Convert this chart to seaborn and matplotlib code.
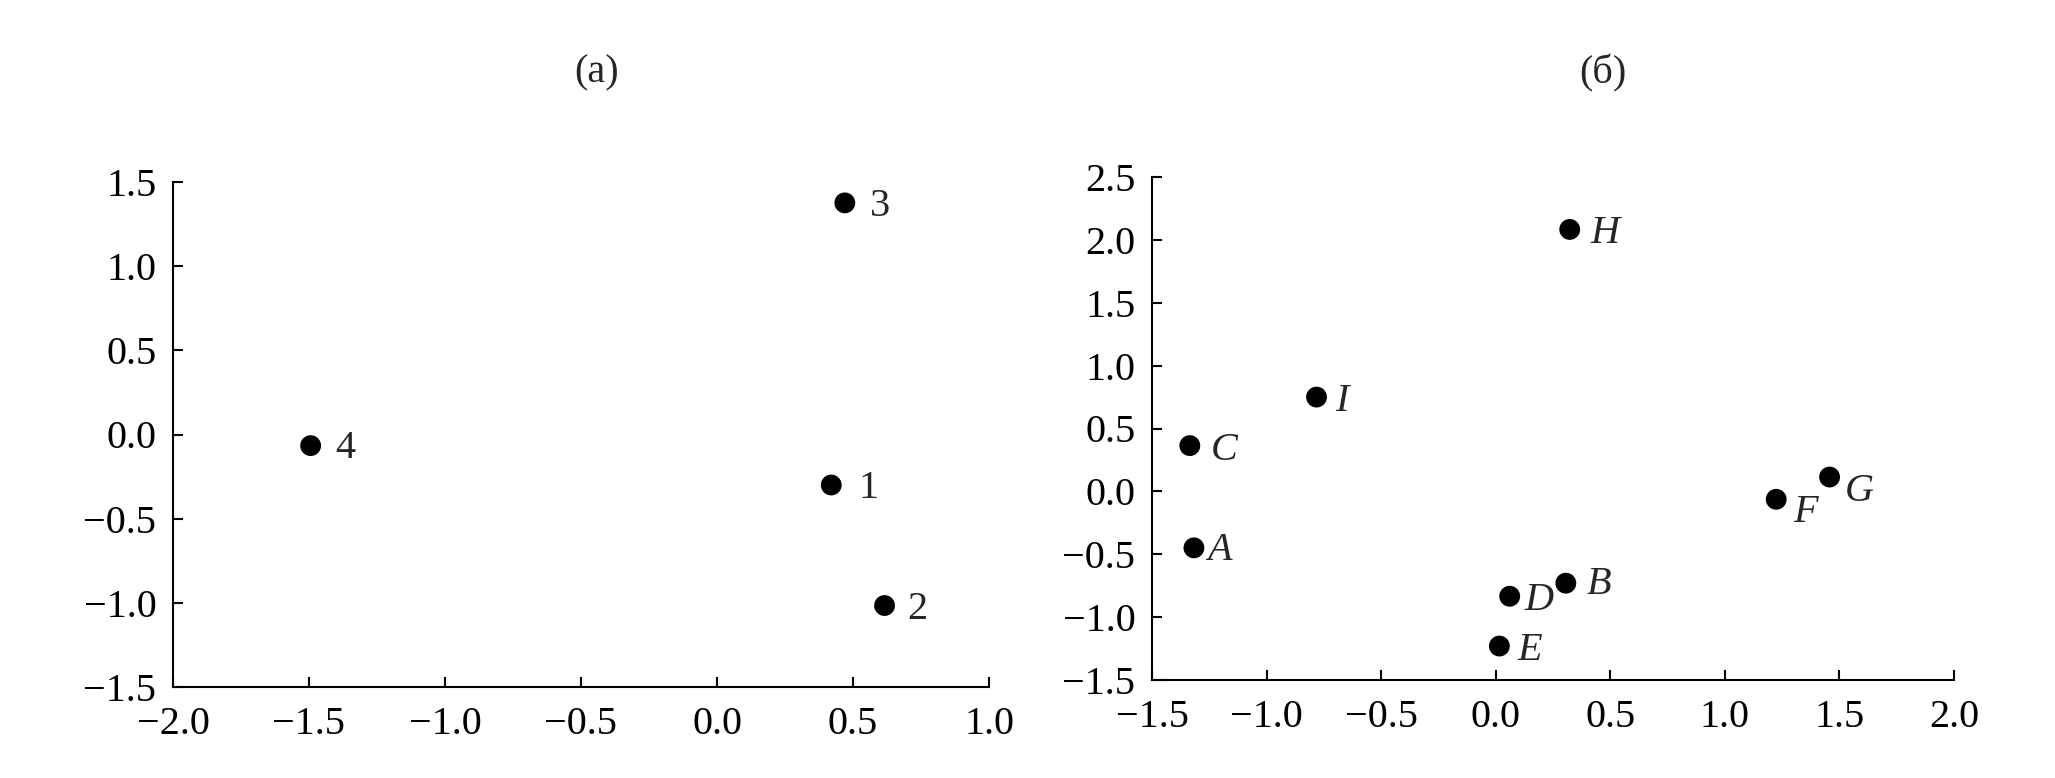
import matplotlib
matplotlib.use("Agg")
import matplotlib.pyplot as plt
import seaborn as sns
import pandas as pd

# ==========================================
# DATA
# ==========================================
a_labels = ["1", "2", "3", "4"]
a_x = [0.42, 0.616, 0.47, -1.494]
a_y = [-0.30, -1.016, 1.376, -0.066]

b_labels = ["A", "B", "C", "D", "E", "F", "G", "H", "I"]
b_x = [-1.317, 0.306, -1.335, 0.061, 0.016, 1.224, 1.457, 0.323, -0.782]
b_y = [-0.449, -0.73, 0.364, -0.834, -1.23, -0.063, 0.114, 2.083, 0.75]

a_xticks = [-2.0, -1.5, -1.0, -0.5, 0.0, 0.5, 1.0]
a_yticks = [-1.5, -1.0, -0.5, 0.0, 0.5, 1.0, 1.5]
b_xticks = [-1.5, -1.0, -0.5, 0.0, 0.5, 1.0, 1.5, 2.0]
b_yticks = [-1.5, -1.0, -0.5, 0.0, 0.5, 1.0, 1.5, 2.0, 2.5]

# label offsets in pixels (dx right, dy down)
a_offsets = [(37, 4), (33, 4), (35, 4), (35, 3)]
b_offsets = [(26, 3), (33, 1), (34, 5), (29, 4), (30, 4), (29, 13), (30, 14), (35, 4), (25, 4)]

# ==========================================
# STYLE
# ==========================================
sns.set_style("ticks")
plt.rcParams['font.family'] = ['Liberation Serif', 'DejaVu Serif']
plt.rcParams['axes.unicode_minus'] = True
FS = 29
PX = 0.72  # points per pixel at dpi 100


def fmt(v):
    s = f"{v:.1f}"
    return s.replace("-", "\u2212")


def draw_panel(ax, xs, ys, labels, offsets, xticks, yticks, italic):
    df = pd.DataFrame({"x": xs, "y": ys, "lab": labels})
    sns.scatterplot(data=df, x="x", y="y", ax=ax, color="black", s=225,
                    edgecolor="none", clip_on=False, zorder=3)
    for (xv, yv, lab), (dx, dy) in zip(zip(xs, ys, labels), offsets):
        ax.annotate(lab, (xv, yv), xytext=(dx * PX, -dy * PX),
                    textcoords="offset points", ha="center", va="center",
                    fontsize=FS, style="italic" if italic else "normal")
    ax.set_xlim(xticks[0], xticks[-1])
    ax.set_ylim(yticks[0], yticks[-1])
    ax.set_xticks(xticks)
    ax.set_yticks(yticks)
    ax.set_xticklabels([fmt(v) for v in xticks])
    ax.set_yticklabels([fmt(v) for v in yticks])
    ax.set_xlabel("")
    ax.set_ylabel("")
    sns.despine(ax=ax)
    for sp in ("left", "bottom"):
        ax.spines[sp].set_linewidth(1.5)
        ax.spines[sp].set_color("black")
    ax.tick_params(direction="in", length=7.2, width=1.5, colors="black",
                   labelsize=FS)
    ax.tick_params(axis="x", pad=14)
    ax.tick_params(axis="y", pad=12)


fig = plt.figure(figsize=(20.55, 7.78), dpi=100)
ax1 = fig.add_axes([173 / 2055, 1 - 687 / 778, 816 / 2055, 505 / 778])
ax2 = fig.add_axes([1152 / 2055, 1 - 680 / 778, 802 / 2055, 503 / 778])

draw_panel(ax1, a_x, a_y, a_labels, a_offsets, a_xticks, a_yticks, False)
draw_panel(ax2, b_x, b_y, b_labels, b_offsets, b_xticks, b_yticks, True)

fig.text(597 / 2055, 1 - 73 / 778, "(a)", ha="center", va="center", fontsize=FS)
fig.text(1603 / 2055, 1 - 73 / 778, "(б)", ha="center", va="center", fontsize=FS)

fig.savefig("out.png", dpi=100, facecolor="white")
